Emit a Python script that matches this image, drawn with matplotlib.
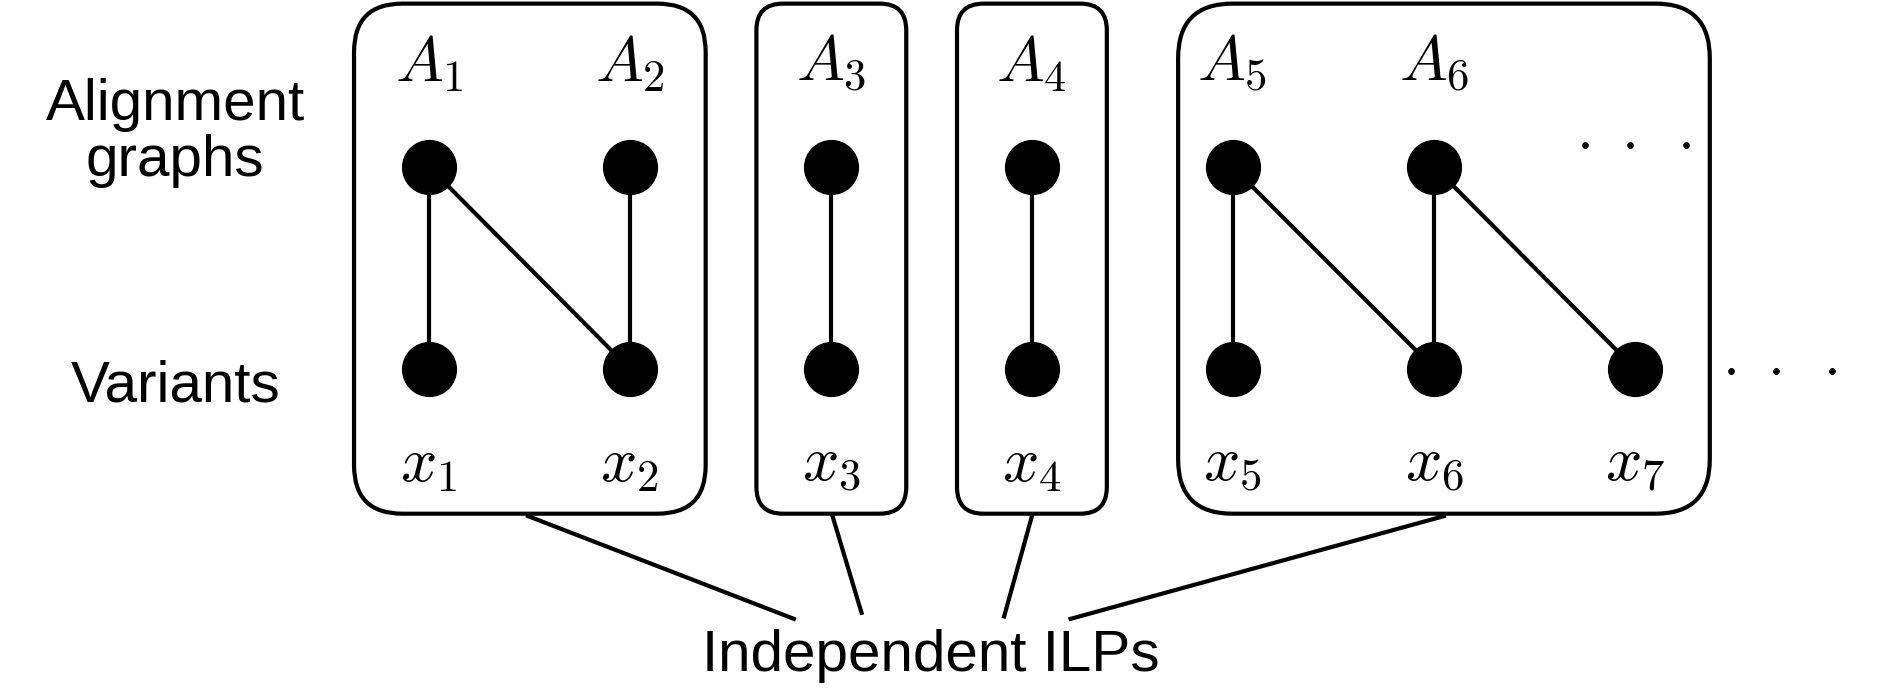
import matplotlib
matplotlib.use("Agg")
import matplotlib.pyplot as plt
from matplotlib.patches import FancyBboxPatch

plt.rcParams['mathtext.fontset'] = 'cm'

top_x = [355, 521, 688, 854, 1020, 1187]
bot_x = [355, 521, 688, 854, 1020, 1187, 1353]
top_labels = [r'$A_1$', r'$A_2$', r'$A_3$', r'$A_4$', r'$A_5$', r'$A_6$']
bot_labels = [r'$x_1$', r'$x_2$', r'$x_3$', r'$x_4$', r'$x_5$', r'$x_6$', r'$x_7$']
edges = [(0, 0), (0, 1), (1, 1), (2, 2), (3, 3), (4, 4), (4, 5), (5, 5), (5, 6)]
boxes = [(293, 584, 40), (626, 750, 22), (792, 916, 22), (975, 1415, 45)]
ilp_lines = [((437, 427), (657, 512)), ((689, 427), (713, 507)),
             ((854, 427), (831, 510)), ((1195, 427), (886, 512))]
TY, BY = 138, 305

fig = plt.figure(figsize=(18.85, 6.95), dpi=100)
ax = fig.add_axes([0, 0, 1, 1])
ax.set_xlim(0, 1560)
ax.set_ylim(575, 0)
ax.axis('off')
lw = 3.0

for x0, x1, r in boxes:
    ax.add_patch(FancyBboxPatch((x0 + r, 3 + r), x1 - x0 - 2 * r, 422 - 2 * r,
                                boxstyle=f"round,pad={r}", fc='white', ec='black', lw=lw))
for t, b in edges:
    ax.plot([top_x[t], bot_x[b]], [TY, BY], color='black', lw=lw, zorder=3)
ax.scatter(top_x, [TY] * len(top_x), s=1500, color='black', zorder=4)
ax.scatter(bot_x, [BY] * len(bot_x), s=1500, color='black', zorder=4)
for x, l in zip(top_x, top_labels):
    ax.text(x, 52, l, ha='center', va='center', fontsize=46)
for x, l in zip(bot_x, bot_labels):
    ax.text(x, 383, l, ha='center', va='center', fontsize=46)
ax.text(1352, 118, r'$\cdot\ \cdot\ \cdot$', ha='center', va='center', fontsize=44)
ax.text(1473, 305, r'$\cdot\ \cdot\ \cdot$', ha='center', va='center', fontsize=44)
for (a, b) in ilp_lines:
    ax.plot([a[0], b[0]], [a[1], b[1]], color='black', lw=lw)
kw = dict(family='Liberation Sans', fontsize=42, ha='center', va='center')
ax.text(145, 110, 'Alignment\ngraphs', linespacing=1.05, **kw)
ax.text(145, 320, 'Variants', **kw)
ax.text(770, 543, 'Independent ILPs', **kw)
fig.savefig('out.png', dpi=100)
